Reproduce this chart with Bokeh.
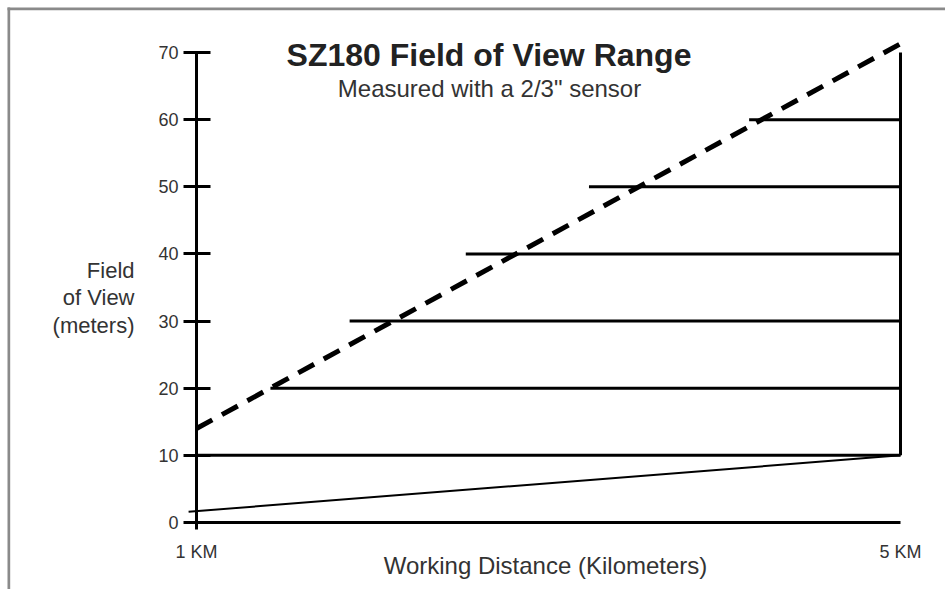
from bokeh.plotting import figure
from bokeh.models import Range1d, FixedTicker, Label, LinearAxis, BoxAnnotation
from bokeh.embed import file_html
from bokeh.resources import INLINE

# ---- data ----
fov_ticks = [0, 10, 20, 30, 40, 50, 60, 70]          # field of view (m)
dist_ticks = [1, 5]                                   # working distance (km)
dist_tick_labels = ["1 KM", "5 KM"]

# maximum field of view (dashed)
max_dist = [1.0, 5.0]
max_fov = [14.0, 71.3]

# minimum field of view (thin solid)
min_dist = [0.955, 5.0]
min_fov = [1.6, 10.0]

# horizontal guide levels and where each begins (km)
level_fov = [10, 20, 30, 40, 50, 60]
level_start = [1.0, 1.42, 1.87, 2.53, 3.23, 4.14]
level_end = [5.0, 5.0, 5.0, 5.0, 5.0, 5.0]

# right edge at 5 km
edge_dist = [5.0, 5.0]
edge_fov = [10.0, 70.0]

FONT = "Liberation Sans"
INK = "#000000"
TXT = "#333333"
FRAME_GRAY = "#8a8a8a"

W, H = 945, 589
# scale: 1 km at px 196, 5 km at px 900; 0 m at px 522, 70 m at px 52
PX_KM = 176.0
PX_M = 470.0 / 70.0
x0 = 1 - 196 / PX_KM
x1 = 1 + (W - 196) / PX_KM
y1 = 522 / PX_M
y0 = -(H - 522) / PX_M

p = figure(width=W, height=H,
           x_range=Range1d(x0, x1), y_range=Range1d(y0, y1),
           x_axis_type=None, y_axis_type=None,
           output_backend="svg", toolbar_location=None,
           min_border=0, min_border_left=0, min_border_right=0,
           min_border_top=0, min_border_bottom=0)
p.grid.visible = False
p.outline_line_color = None
p.border_fill_color = "white"
p.background_fill_color = "white"

# y axis at 1 km
ya = LinearAxis(fixed_location=1.0, ticker=FixedTicker(ticks=fov_ticks))
ya.bounds = (-1, 70)
ya.axis_line_width = 3
ya.axis_line_color = INK
ya.major_tick_line_width = 3
ya.major_tick_line_color = INK
ya.major_tick_in = 14
ya.major_tick_out = 13
ya.minor_tick_line_color = None
ya.major_label_standoff = 5
ya.major_label_text_font = FONT
ya.major_label_text_font_size = "18px"
ya.major_label_text_color = TXT
p.add_layout(ya, "left")

# x axis at 0 m (the baseline from 1 km to 5 km)
xa = LinearAxis(fixed_location=0.0, ticker=FixedTicker(ticks=dist_ticks))
xa.bounds = (1, 5)
xa.major_label_overrides = {d: lab for d, lab in zip(dist_ticks, dist_tick_labels)}
xa.axis_line_color = INK
xa.axis_line_width = 3
xa.major_tick_line_color = None
xa.minor_tick_line_color = None
xa.major_tick_out = 0
xa.major_tick_in = 0
xa.major_label_standoff = 19
xa.major_label_text_font = FONT
xa.major_label_text_font_size = "18px"
xa.major_label_text_color = TXT
p.add_layout(xa, "below")

# marks
p.segment(x0=level_start, y0=level_fov, x1=level_end, y1=level_fov,
          line_width=3, line_color=INK)
p.line(edge_dist, edge_fov, line_width=3, line_color=INK)
p.line(min_dist, min_fov, line_width=2, line_color=INK)
p.line(max_dist, max_fov, line_width=5, line_color=INK, line_dash="18 11")

# grey page frame (left and top edges)
def px_x(px):
    return 1 + (px - 196) / PX_KM

def px_y(py):
    return (522 - py) / PX_M

p.add_layout(BoxAnnotation(left=px_x(7), right=px_x(9.7), top=px_y(7), bottom=y0 - 1,
                           fill_color=FRAME_GRAY, fill_alpha=1, line_color=None))
p.add_layout(BoxAnnotation(left=px_x(7), right=x1 + 1, top=px_y(7), bottom=px_y(9.7),
                           fill_color=FRAME_GRAY, fill_alpha=1, line_color=None))

# texts (baseline positions in page pixels)
p.add_layout(Label(x=px_x(488.5), y=px_y(54), text="SZ180 Field of View Range",
                   text_align="center", text_baseline="alphabetic",
                   text_font=FONT, text_font_size="32px", text_font_style="bold",
                   text_color="#222222"))
p.add_layout(Label(x=px_x(489), y=px_y(88), text='Measured with a 2/3" sensor',
                   text_align="center", text_baseline="alphabetic",
                   text_font=FONT, text_font_size="24px", text_color=TXT))
for txt, py in [("Field", 270), ("of View", 297), ("(meters)", 325)]:
    p.add_layout(Label(x=px_x(134), y=px_y(py), text=txt, text_align="right",
                       text_baseline="alphabetic", text_font=FONT,
                       text_font_size="22px", text_color=TXT))
p.add_layout(Label(x=px_x(545), y=px_y(565), text="Working Distance (Kilometers)",
                   text_align="center", text_baseline="alphabetic",
                   text_font=FONT, text_font_size="24px", text_color=TXT))

open("out.html", "w").write(file_html(p, INLINE))
